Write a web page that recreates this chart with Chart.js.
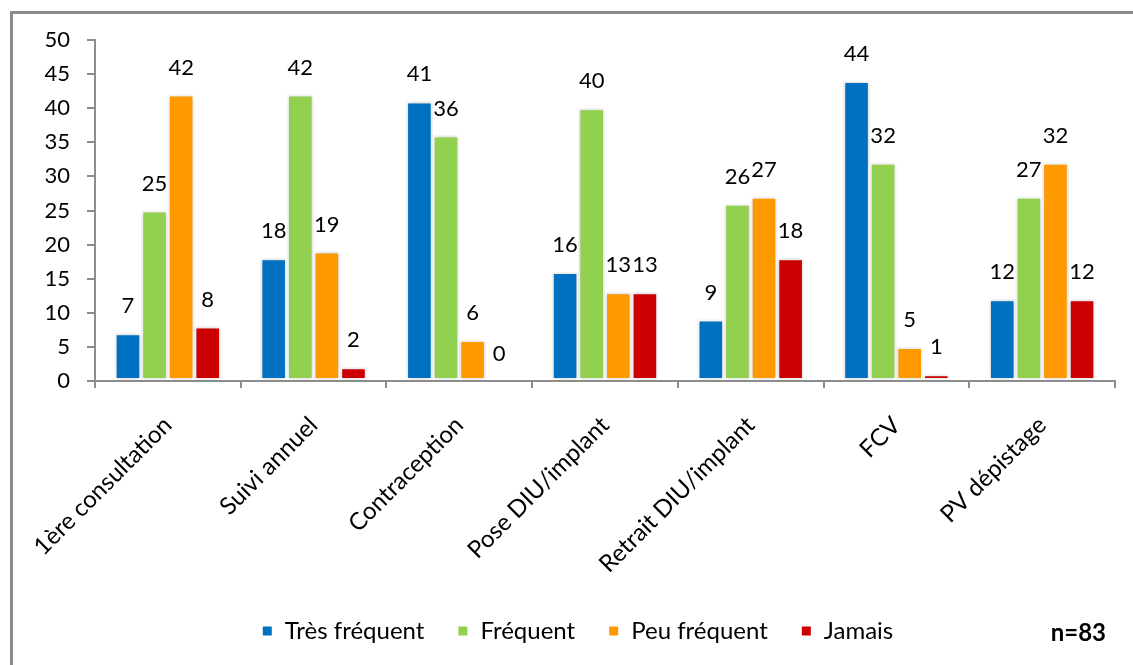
<!DOCTYPE html>
<html>
<head>
<meta charset="utf-8">
<script src="https://cdn.jsdelivr.net/npm/chart.js@4"></script>
<style>
  html, body { margin: 0; padding: 0; background: #fff; overflow: hidden; }
  #wrap { position: relative; width: 1133px; height: 665px; }
</style>
</head>
<body>
<div id="wrap"><canvas id="chart" width="1133" height="665"></canvas></div>
<script>
// Chart data
const categories = ["1ère consultation", "Suivi annuel", "Contraception", "Pose DIU/implant", "Retrait DIU/implant", "FCV", "PV dépistage"];
const seriesNames = ["Très fréquent", "Fréquent", "Peu fréquent", "Jamais"];
const tresFrequent = [7, 18, 41, 16, 9, 44, 12];
const frequent = [25, 42, 36, 40, 26, 32, 27];
const peuFrequent = [42, 19, 6, 13, 27, 5, 32];
const jamais = [8, 2, 0, 13, 18, 1, 12];
const seriesColors = ["#0070C0", "#92D050", "#FF9900", "#CC0000"];
const yTicks = [0, 5, 10, 15, 20, 25, 30, 35, 40, 45, 50];
const sampleNote = "n=83";

const FONT = "Lato, 'Open Sans', sans-serif";
const NUM_SIZE = 22;
const TXT_SIZE = 24;

// Frame around the chart + n=83 + value labels
const extras = {
  id: "extras",
  beforeDraw(chart) {
    const ctx = chart.ctx;
    ctx.save();
    ctx.strokeStyle = "#8c8c8c";
    ctx.lineWidth = 3;
    ctx.strokeRect(11.5, 12.5, 1140, 665);
    ctx.restore();
  },
  beforeDatasetsDraw(chart) {
    const ctx = chart.ctx;
    ctx.save();
    ctx.shadowColor = "rgba(0,0,0,0.22)";
    ctx.shadowBlur = 4;
    ctx.shadowOffsetX = 0;
    ctx.shadowOffsetY = 0;
  },
  afterDatasetsDraw(chart) {
    const ctx = chart.ctx;
    ctx.restore();
    ctx.save();
    ctx.font = NUM_SIZE + "px " + FONT;
    ctx.fillStyle = "#000";
    ctx.textAlign = "center";
    ctx.textBaseline = "middle";
    chart.data.datasets.forEach((ds, i) => {
      const meta = chart.getDatasetMeta(i);
      meta.data.forEach((bar, j) => {
        ctx.fillText(String(ds.data[j]), bar.x, bar.y - 27);
      });
    });
    ctx.font = "bold 24px " + FONT;
    ctx.textAlign = "right";
    ctx.fillText(sampleNote, 1106, 633);
    ctx.restore();
  }
};

const allSeries = [tresFrequent, frequent, peuFrequent, jamais];

new Chart(document.getElementById("chart").getContext("2d"), {
  type: "bar",
  data: {
    labels: categories,
    datasets: allSeries.map((vals, i) => ({
      label: seriesNames[i],
      data: vals,
      backgroundColor: seriesColors[i],
      borderColor: "#ffffff",
      borderWidth: 2,
      borderSkipped: false,
      categoryPercentage: 0.73,
      barPercentage: 1.0
    }))
  },
  options: {
    responsive: false,
    animation: false,
    layout: { padding: { left: 40, right: 18, top: 40, bottom: 12 } },
    plugins: {
      tooltip: { enabled: false },
      legend: {
        position: "bottom",
        labels: {
          boxWidth: 11,
          boxHeight: 11,
          padding: 33,
          color: "#000",
          font: { family: FONT, size: TXT_SIZE }
        }
      }
    },
    scales: {
      y: {
        min: 0,
        max: 50,
        afterFit(s) { s.width = 55; },
        afterBuildTicks(s) { s.ticks = yTicks.map(v => ({ value: v })); },
        ticks: { color: "#000", padding: 17, font: { family: FONT, size: NUM_SIZE } },
        grid: { drawOnChartArea: false, drawTicks: true, tickLength: 8, color: "#8c8c8c", lineWidth: 2 },
        border: { color: "#8c8c8c", width: 2 }
      },
      x: {
        afterFit(s) { s.height = 205; },
        ticks: { color: "#000", minRotation: 45, maxRotation: 45, padding: 23, font: { family: FONT, size: TXT_SIZE } },
        grid: { drawOnChartArea: false, drawTicks: true, tickLength: 7, color: "#8c8c8c", lineWidth: 2, offset: true },
        border: { color: "#8c8c8c", width: 2 }
      }
    }
  },
  plugins: [extras]
});
</script>
</body>
</html>
